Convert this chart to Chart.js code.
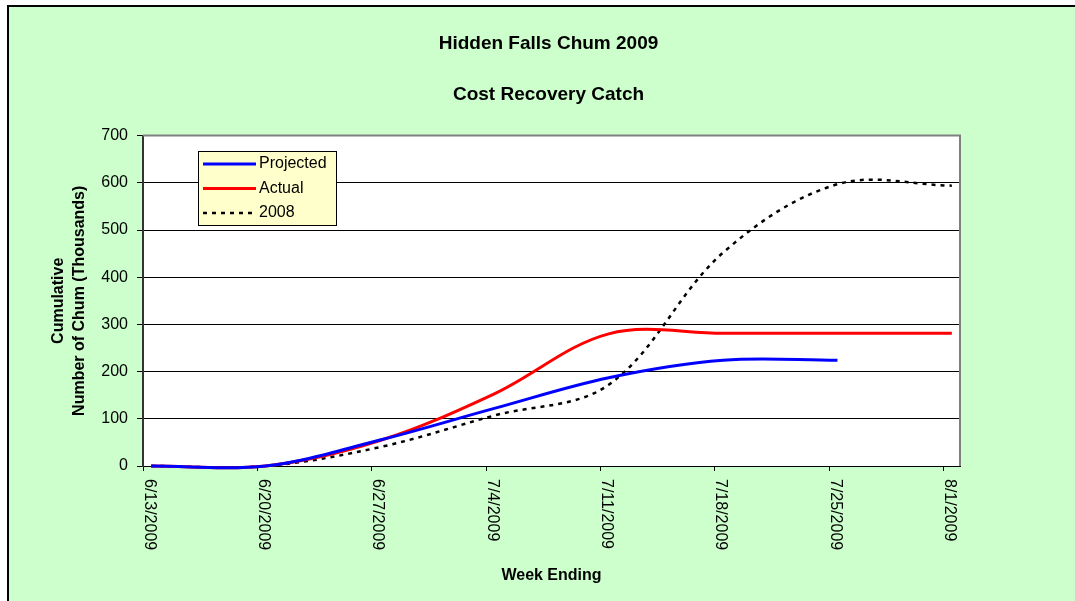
<!DOCTYPE html>
<html>
<head>
<meta charset="utf-8">
<title>Hidden Falls Chum 2009</title>
<script src="https://cdn.jsdelivr.net/npm/chart.js@4.4.1/dist/chart.umd.min.js"></script>
<style>
  body { margin: 0; background: #fff; }
  canvas { display: block; }
</style>
</head>
<body>
<canvas id="myChart" width="1075" height="601"></canvas>
<script>
// week ending dates (x axis tick labels)
var weekEnding = ["6/13/2009", "6/20/2009", "6/27/2009", "7/4/2009", "7/11/2009", "7/18/2009", "7/25/2009", "8/1/2009"];
// cumulative catch, thousands
var projected = [0, 0, 55, 122, 187, 224, 224];
var actual = [0, 0, 54, 153, 280, 281, 281, 281];
var catch2008 = [0, 0, 40, 107, 172, 452, 597, 594];
var yTicks = [0, 100, 200, 300, 400, 500, 600, 700];

var FONT = '"Liberation Sans", Arial, sans-serif';
var DAYS = 7;

// excel date axis: each point sits in the middle of its day
function toPoints(values) {
  return values.map((v, i) => ({ x: i * DAYS + 0.5, y: v }));
}

var backdrop = {
  id: "backdrop",
  beforeDraw(chart) {
    var c = chart.ctx, a = chart.chartArea;
    c.save();
    c.fillStyle = "#fff";
    c.fillRect(0, 0, chart.width, chart.height);
    c.fillStyle = "#CCFFCC";
    c.fillRect(8, 6, chart.width - 8, chart.height - 6);
    c.strokeStyle = "#000";
    c.lineWidth = 2;
    c.beginPath();
    c.moveTo(8, chart.height);
    c.lineTo(8, 6);
    c.lineTo(chart.width, 6);
    c.stroke();
    c.fillStyle = "#fff";
    c.fillRect(a.left, a.top, a.right - a.left, a.bottom - a.top);
    c.restore();
  },
  afterDraw(chart) {
    var c = chart.ctx, a = chart.chartArea;
    var xs = chart.scales.x;
    c.save();
    // plot frame top / right
    c.strokeStyle = "#808080";
    c.lineWidth = 2;
    c.beginPath();
    c.moveTo(a.left, a.top);
    c.lineTo(a.right, a.top);
    c.lineTo(a.right, a.bottom);
    c.stroke();

    // x labels, turned clockwise
    c.fillStyle = "#000";
    c.font = "16px " + FONT;
    c.textAlign = "left";
    c.textBaseline = "middle";
    weekEnding.forEach((lbl, i) => {
      var px = xs.getPixelForValue(i * DAYS) + 6;
      c.save();
      c.translate(px, a.bottom + 13);
      c.rotate(Math.PI / 2);
      c.fillText(lbl, 0, 0);
      c.restore();
    });

    // legend box
    var bx = 198, by = 151, bw = 138, bh = 74;
    c.fillStyle = "#FFFFCC";
    c.fillRect(bx, by, bw, bh);
    c.strokeStyle = "#000";
    c.lineWidth = 1;
    c.strokeRect(bx + 0.5, by + 0.5, bw, bh);
    chart.data.datasets.forEach((ds, i) => {
      var yy = by + 13 + i * 24.5;
      c.save();
      c.strokeStyle = ds.borderColor;
      c.lineWidth = ds.borderWidth;
      c.setLineDash(ds.borderDash || []);
      c.beginPath();
      c.moveTo(bx + 5, yy);
      c.lineTo(bx + 58, yy);
      c.stroke();
      c.restore();
      c.fillStyle = "#000";
      c.fillText(ds.label, bx + 61, yy);
    });
    c.restore();
  }
};

var ctx = document.getElementById("myChart");
var chart = new Chart(ctx, {
  type: "line",
  data: {
    datasets: [
      {
        label: "Projected",
        data: toPoints(projected),
        borderColor: "#0000FF",
        borderWidth: 3,
      },
      {
        label: "Actual",
        data: toPoints(actual),
        borderColor: "#FF0000",
        borderWidth: 3,
      },
      {
        label: "2008",
        data: toPoints(catch2008),
        borderColor: "#000000",
        borderWidth: 2.5,
        borderDash: [4, 5],
      },
    ],
  },
  options: {
    responsive: false,
    animation: false,
    devicePixelRatio: 1,
    layout: { padding: { left: 22, right: 0, top: 0, bottom: 0 } },
    elements: {
      point: { radius: 0 },
      line: { tension: 0.35, capBezierPoints: false, fill: false },
    },
    datasets: { line: { clip: false } },
    plugins: {
      legend: { display: false },
      tooltip: { enabled: false },
      title: {
        display: true,
        text: "Hidden Falls Chum 2009",
        color: "#000",
        font: { family: FONT, size: 19, weight: "bold", lineHeight: 1.2 },
        padding: { top: 32, bottom: 0 },
      },
      subtitle: {
        display: true,
        text: "Cost Recovery Catch",
        color: "#000",
        font: { family: FONT, size: 19, weight: "bold", lineHeight: 1.2 },
        padding: { top: 29, bottom: 29 },
      },
    },
    scales: {
      x: {
        type: "linear",
        min: 0,
        max: weekEnding.length * DAYS - 6,
        afterBuildTicks(scale) {
          scale.ticks = weekEnding.map((d, i) => ({ value: i * DAYS }));
        },
        afterFit(scale) {
          scale.height = 135;
        },
        ticks: { display: false },
        grid: { drawOnChartArea: false, drawTicks: true, tickLength: 5, color: "#000" },
        border: { display: true, color: "#000", width: 1 },
        title: {
          display: true,
          text: "Week Ending",
          color: "#000",
          font: { family: FONT, size: 16, weight: "bold", lineHeight: 1.3 },
          padding: { top: 0, bottom: 15 },
        },
      },
      y: {
        min: yTicks[0],
        max: yTicks[yTicks.length - 1],
        afterBuildTicks(scale) {
          scale.ticks = yTicks.map((v) => ({ value: v }));
        },
        afterFit(scale) {
          scale.width = 121;
        },
        ticks: { color: "#000", padding: 9, font: { family: FONT, size: 16 } },
        grid: { color: "#000", tickLength: 6, lineWidth: 1 },
        border: { display: true, color: "#333", width: 2 },
        title: {
          display: true,
          text: ["Cumulative", "Number of Chum (Thousands)"],
          color: "#000",
          font: { family: FONT, size: 16, weight: "bold", lineHeight: 1.3 },
          padding: { top: 26, bottom: 0 },
        },
      },
      // empty right-hand strip so the plot stops where the original does
      yRight: {
        position: "right",
        display: true,
        afterFit(scale) {
          scale.width = 115;
        },
        ticks: { display: false },
        grid: { display: false },
        border: { display: false },
      },
    },
  },
  plugins: [backdrop],
});
</script>
</body>
</html>
